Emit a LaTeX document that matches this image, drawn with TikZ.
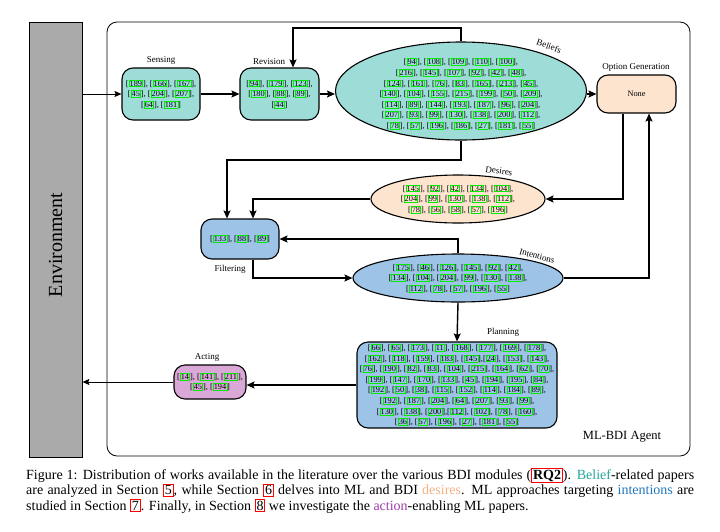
\documentclass[tikz,border=0pt]{standalone}
\usepackage{fontspec}
\setmainfont{Liberation Serif}
\usetikzlibrary{arrows.meta,shapes.geometric,calc}
\definecolor{tealf}{RGB}{158,220,216}
\definecolor{peachf}{RGB}{252,228,206}
\definecolor{bluef}{RGB}{157,195,230}
\definecolor{pinkf}{RGB}{218,168,214}
\definecolor{envf}{RGB}{170,170,170}
\definecolor{citeg}{RGB}{0,235,0}
\definecolor{belc}{RGB}{38,166,154}
\definecolor{desc}{RGB}{244,177,131}
\definecolor{intc}{RGB}{31,119,190}
\definecolor{actc}{RGB}{160,60,170}
\newcommand\gbx[1]{{\setlength\fboxsep{0.3pt}\setlength\fboxrule{0.7pt}\textcolor{citeg}{\fbox{\textcolor{black}{#1}}}}}
\newcommand\ct[1]{\relax[\gbx{#1}]}
\newcommand\rbx[1]{{\setlength\fboxsep{0.8pt}\setlength\fboxrule{1.1pt}\textcolor{red}{\fbox{\textcolor{black}{#1}}}}}
\newcommand\citefont{\fontsize{8.3}{10.6}\selectfont}
\newcommand\lblfont{\fontsize{9}{11}\selectfont}
\tikzset{
  box/.style={draw, line width=1.1pt, rounded corners=11pt, align=center, inner sep=1pt, font=\citefont},
  ell/.style={draw, ellipse, line width=1.1pt, inner sep=0pt},
  ctext/.style={align=center, font=\citefont, inner sep=0pt},
  arr/.style={line width=1.4pt, -{Stealth[length=8pt,width=7pt,inset=1.5pt]}},
  tarr/.style={line width=0.9pt, -{Stealth[length=7pt,width=6pt,inset=1.2pt]}},
  lbl/.style={font=\lblfont, inner sep=0pt},
}
\begin{document}
\begin{tikzpicture}[x=1pt,y=-1pt]
\useasboundingbox (0,0) rectangle (720,531);
% environment and agent frame
\node[draw, line width=0.8pt, fill=envf, minimum width=53pt, minimum height=435pt, inner sep=0pt] (env) at (55.5,239.5) {};
\node[rotate=90, font=\fontsize{20}{24}\selectfont, inner sep=0pt] (envt) at (55.5,245) {Environment};
\node[draw, line width=0.8pt, rounded corners=10pt, minimum width=583pt, minimum height=434pt, inner sep=0pt] (agent) at (398.5,239) {};
\node[font=\fontsize{12.5}{15}\selectfont, inner sep=0pt] (agentl) at (622,437) {ML-BDI Agent};
% modules
\node[box, fill=tealf, minimum width=78pt, minimum height=52pt] (sens) at (161,94)
 {\ct{189}, \ct{166}, \ct{167},\\ \ct{45}, \ct{204}, \ct{207},\\ \ct{64}, \ct{181}};
\node[lbl] (sensl) at (161,60) {Sensing};
\node[box, fill=tealf, minimum width=79pt, minimum height=52pt] (rev) at (279.5,94)
 {\ct{94}, \ct{179}, \ct{123},\\ \ct{180}, \ct{88}, \ct{89},\\ \ct{44}};
\node[lbl] (revl) at (269,62) {Revision};
\node[ell, fill=tealf, minimum width=251pt, minimum height=98pt] (bel) at (461,91) {};
\node[ctext] (belt) at (461,94)
 {\ct{94}, \ct{108}, \ct{109}, \ct{110}, \ct{100},\\
  \ct{216}, \ct{145}, \ct{107}, \ct{92}, \ct{42}, \ct{48},\\
  \ct{124}, \ct{161}, \ct{76}, \ct{83}, \ct{165}, \ct{213}, \ct{45},\\
  \ct{140}, \ct{104}, \ct{155}, \ct{215}, \ct{199}, \ct{50}, \ct{209},\\
  \ct{114}, \ct{89}, \ct{144}, \ct{193}, \ct{187}, \ct{96}, \ct{204},\\
  \ct{207}, \ct{93}, \ct{99}, \ct{130}, \ct{138}, \ct{200}, \ct{112},\\
  \ct{78}, \ct{57}, \ct{196}, \ct{186}, \ct{27}, \ct{181}, \ct{55}};
\node[lbl, rotate=-20] (bell) at (549,46) {Beliefs};
\node[box, fill=peachf, minimum width=79pt, minimum height=38pt] (opt) at (636.5,94) {None};
\node[lbl] (optl) at (636,67) {Option Generation};
\node[ell, fill=peachf, minimum width=174pt, minimum height=48pt] (des) at (458,199) {};
\node[ctext] (dest) at (458,199)
 {\ct{145}, \ct{92}, \ct{42}, \ct{134}, \ct{104},\\
  \ct{204}, \ct{99}, \ct{130}, \ct{138}, \ct{112},\\
  \ct{78}, \ct{56}, \ct{58}, \ct{57}, \ct{196}};
\node[lbl, rotate=-8] (desl) at (499,171) {Desires};
\node[box, fill=bluef, minimum width=78pt, minimum height=40pt] (filt) at (240,239)
 {\ct{133}, \ct{88}, \ct{89}};
\node[lbl] (filtl) at (230,269) {Filtering};
\node[ell, fill=bluef, minimum width=210pt, minimum height=48pt] (int) at (458,278) {};
\node[ctext] (intt) at (458,278)
 {\ct{175}, \ct{46}, \ct{126}, \ct{145}, \ct{92}, \ct{42},\\
  \ct{134}, \ct{104}, \ct{204}, \ct{99}, \ct{130}, \ct{138},\\
  \ct{112}, \ct{78}, \ct{57}, \ct{196}, \ct{55}};
\node[lbl, rotate=-15] (intl) at (537,256) {Intentions};
\node[box, fill=bluef, minimum width=200pt, minimum height=86pt] (plan) at (457,385)
 {\ct{66}, \ct{65}, \ct{173}, \ct{11}, \ct{168}, \ct{177}, \ct{169}, \ct{178},\\
  \ct{162}, \ct{118}, \ct{159}, \ct{183}, \ct{145},\ct{24}, \ct{153}, \ct{143},\\
  \ct{76}, \ct{190}, \ct{82}, \ct{83}, \ct{104}, \ct{215}, \ct{164}, \ct{62}, \ct{70},\\
  \ct{199}, \ct{147}, \ct{170}, \ct{133}, \ct{45}, \ct{194}, \ct{195}, \ct{84},\\
  \ct{192}, \ct{50}, \ct{38}, \ct{115}, \ct{152}, \ct{114}, \ct{184}, \ct{89},\\
  \ct{192}, \ct{187}, \ct{204}, \ct{64}, \ct{207}, \ct{93}, \ct{99},\\
  \ct{130}, \ct{138}, \ct{200},\ct{112}, \ct{102}, \ct{78}, \ct{160},\\
  \ct{36}, \ct{57}, \ct{196}, \ct{27}, \ct{181}, \ct{55}};
\node[lbl] (planl) at (503,332) {Planning};
\node[box, fill=pinkf, minimum width=72pt, minimum height=34pt] (act) at (210,382)
 {\ct{14}, \ct{141}, \ct{211},\\ \ct{45}, \ct{194}};
\node[lbl] (actl) at (207,357) {Acting};
% connectors
\coordinate (ttop) at (0,28);
\coordinate (bbot) at (0,160);
\draw[tarr] (env.east |- sens.west) -- (sens.west);
\draw[arr] (sens) -- (rev);
\draw[arr] (rev.east) -- (rev.east -| bel.west);
\draw[arr] (bel.north) -- (bel.north |- ttop) -| ($(rev.north)+(13.5,0)$);
\draw[arr] (bel.south) -- (bel.south |- bbot) -| ($(filt.north)+(-13,0)$);
\draw[arr] (bel.east |- opt.west) -- (opt.west);
\draw[arr] ($(opt.south)+(-13.5,0)$) |- (des.east);
\draw[arr] (des.west) -| ($(filt.north)+(13,0)$);
\draw[arr] (int.north) |- (filt.east);
\draw[arr] ($(filt.south)+(13,0)$) |- (int.west);
\draw[arr] (int.east) -| ($(opt.south)+(12.5,0)$);
\draw[arr] (int.south) -- (plan.north);
\draw[arr] (plan.west) -- (plan.west -| act.east);
\draw[tarr] (act.west) -- (act.west -| env.east);
% caption
\node[anchor=base west, inner sep=0pt] (cap) at (26,479) {\begin{minipage}[t]{668pt}\fontsize{14}{15.7}\selectfont
Figure 1: Distribution of works available in the literature over the various BDI modules (\rbx{\textbf{RQ2}}). \textcolor{belc}{Belief}-related papers\linebreak
are analyzed in Section \rbx{5}, while Section \rbx{6} delves into ML and BDI \textcolor{desc}{desires}. ML approaches targeting \textcolor{intc}{intentions} are\linebreak
studied in Section \rbx{7}. Finally, in Section \rbx{8} we investigate the \textcolor{actc}{action}-enabling ML papers.
\end{minipage}};
\end{tikzpicture}
\end{document}
